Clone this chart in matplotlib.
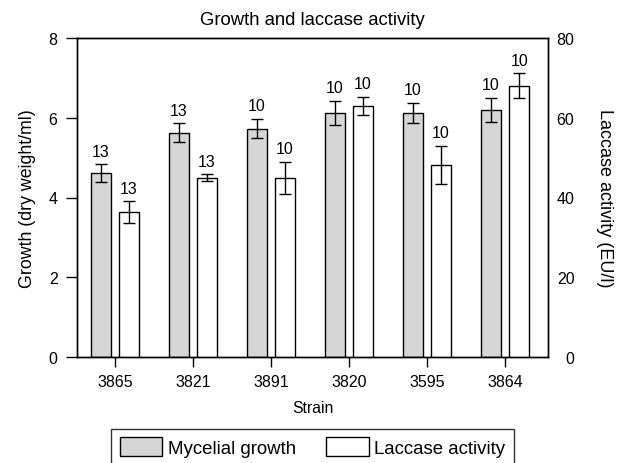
import matplotlib
matplotlib.use("Agg")
import matplotlib.pyplot as plt
import numpy as np
from matplotlib.patches import Patch

plt.rcParams['font.family'] = ['Liberation Sans', 'DejaVu Sans']

strains = ["3865", "3821", "3891", "3820", "3595", "3864"]
growth = [4.61, 5.62, 5.73, 6.12, 6.12, 6.20]
growth_err = [0.22, 0.24, 0.25, 0.30, 0.26, 0.30]
laccase = [36.3, 45.0, 45.0, 62.9, 48.2, 68.0]
laccase_err = [2.8, 0.8, 4.0, 2.3, 4.8, 3.1]
growth_n = ["13", "13", "10", "10", "10", "10"]
laccase_n = ["13", "13", "10", "10", "10", "10"]

fig = plt.figure(figsize=(6.27, 4.64), dpi=100)
ax = fig.add_axes([77/627, 1-358/464, (548-77)/627, (358-39)/464])
ax2 = ax.twinx()

x = np.arange(len(strains))
w = 0.256
off = 0.18
grey = '#d6d6d6'

ax.bar(x - off, growth, w, color=grey, edgecolor='black', linewidth=1.0, zorder=2)
ax.errorbar(x - off, growth, yerr=growth_err, fmt='none', ecolor='black',
            elinewidth=1.0, capsize=4, capthick=1.0, zorder=3)
ax2.bar(x + off, laccase, w, color='white', edgecolor='black', linewidth=1.0, zorder=2)
ax2.errorbar(x + off, laccase, yerr=laccase_err, fmt='none', ecolor='black',
             elinewidth=1.0, capsize=4, capthick=1.0, zorder=3)

for xi, v, e, n in zip(x - off, growth, growth_err, growth_n):
    ax.annotate(n, (xi, v + e), xytext=(0, 4), textcoords='offset points',
                ha='center', va='bottom', fontsize=11.5)
for xi, v, e, n in zip(x + off, laccase, laccase_err, laccase_n):
    ax2.annotate(n, (xi, v + e), xytext=(0, 4), textcoords='offset points',
                 ha='center', va='bottom', fontsize=11.5)

ax.set_xlim(-0.487, 5.55)
ax.set_ylim(0, 8)
ax2.set_ylim(0, 80)
ax.set_yticks([0, 2, 4, 6, 8])
ax2.set_yticks([0, 20, 40, 60, 80])
ax.set_xticks(x)
ax.set_xticklabels(strains)

ax.tick_params(axis='y', direction='out', length=8, width=1, pad=6, labelsize=11.5)
ax.tick_params(axis='x', direction='out', length=7, width=1, pad=5, labelsize=11.5)
ax2.tick_params(axis='y', direction='out', length=0, pad=19, labelsize=11.5)
for lab in ax2.get_yticklabels():
    lab.set_horizontalalignment('right')

for a in (ax, ax2):
    for s in a.spines.values():
        s.set_linewidth(1.0)
        s.set_color('black')

ax.set_title("Growth and laccase activity", fontsize=13.3, pad=10)
ax.set_xlabel("Strain", fontsize=11.3, labelpad=8)
ax.set_ylabel("Growth (dry weight/ml)", fontsize=12.8, labelpad=9)
ax2.set_ylabel("Laccase activity (EU/l)", fontsize=13, rotation=270, labelpad=28)

handles = [Patch(facecolor=grey, edgecolor='black', linewidth=1.0, label='Mycelial growth'),
           Patch(facecolor='white', edgecolor='black', linewidth=1.0, label='Laccase activity')]
leg = fig.legend(handles=handles, loc='upper center', bbox_to_anchor=(312.5/627, 1-430/464),
                 ncol=2, frameon=True, fancybox=False, edgecolor='black', fontsize=13.4,
                 handlelength=2.3, handleheight=1.15, handletextpad=0.3, columnspacing=1.6,
                 borderpad=0.45, borderaxespad=0)
leg.get_frame().set_linewidth(1.0)

fig.savefig("out.png", dpi=100)
